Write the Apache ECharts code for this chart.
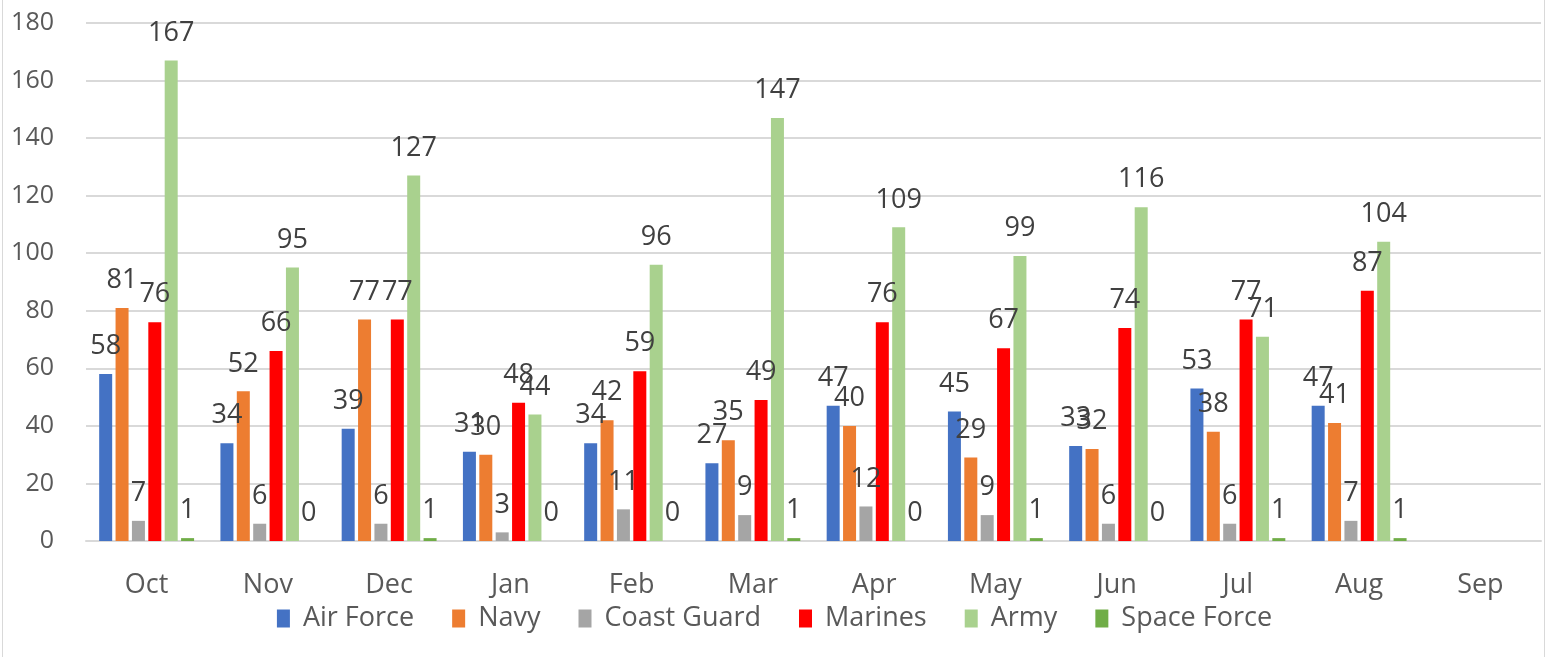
<!DOCTYPE html>
<html>
<head>
<meta charset="utf-8">
<script src="https://cdn.jsdelivr.net/npm/echarts@6/dist/echarts.min.js"></script>
<style>
    html, body { margin: 0; padding: 0; background: #fff; }
    #frame {
        position: absolute; left: 2px; top: -2px; width: 1543px; height: 662px;
        border: 1px solid #d9d9d9; box-sizing: border-box;
    }
    #chart { position: absolute; left: 0; top: 0; width: 1549px; height: 657px; }
</style>
</head>
<body>
<div id="frame"></div>
<div id="chart"></div>
<script>
// 月份
var months = ['Oct', 'Nov', 'Dec', 'Jan', 'Feb', 'Mar', 'Apr', 'May', 'Jun', 'Jul', 'Aug', 'Sep'];
// 各军种数据 (Sep 无数据)
var airForce   = [58, 34, 39, 31, 34, 27, 47, 45, 33, 53, 47, null];
var navy       = [81, 52, 77, 30, 42, 35, 40, 29, 32, 38, 41, null];
var coastGuard = [7, 6, 6, 3, 11, 9, 12, 9, 6, 6, 7, null];
var marines    = [76, 66, 77, 48, 59, 49, 76, 67, 74, 77, 87, null];
var army       = [167, 95, 127, 44, 96, 147, 109, 99, 116, 71, 104, null];
var spaceForce = [1, 0, 1, 0, 0, 1, 0, 1, 0, 1, 1, null];

var seriesNames = ['Air Force', 'Navy', 'Coast Guard', 'Marines', 'Army', 'Space Force'];
var seriesData = [airForce, navy, coastGuard, marines, army, spaceForce];
var colors = ['#4472C4', '#ED7D31', '#A5A5A5', '#FF0000', '#A9D18E', '#70AD47'];

var font = 'Open Sans';

var chart = echarts.init(document.getElementById('chart'));

var series = [];
for (let i = 0; i < seriesNames.length; i++) {
    series.push({
        name: seriesNames[i],
        type: 'bar',
        data: seriesData[i],
        barWidth: 13,
        barGap: '26%',
        itemStyle: { color: colors[i] },
        label: {
            show: true,
            position: 'top',
            distance: 14,
            color: '#404040',
            fontFamily: font,
            fontSize: 27
        }
    });
}

var option = {
    animation: false,
    color: colors,
    grid: {
        left: 86,
        right: 8,
        top: 23,
        bottom: 116
    },
    legend: {
        data: seriesNames,
        bottom: 20,
        left: 'center',
        itemWidth: 13,
        itemHeight: 18,
        itemGap: 38,
        icon: 'rect',
        textStyle: { color: '#595959', fontFamily: font, fontSize: 27, padding: [0, 0, 0, 8] }
    },
    xAxis: {
        type: 'category',
        data: months,
        axisLine: { show: true, lineStyle: { color: '#d9d9d9', width: 2 } },
        axisTick: { show: false },
        axisLabel: { color: '#595959', fontFamily: font, fontSize: 27, margin: 31 }
    },
    yAxis: {
        type: 'value',
        min: 0,
        max: 180,
        interval: 20,
        axisLine: { show: false },
        axisTick: { show: false },
        splitLine: { lineStyle: { color: '#d9d9d9', width: 2 } },
        axisLabel: { color: '#595959', fontFamily: font, fontSize: 25, margin: 32 }
    },
    series: series
};

chart.setOption(option);
</script>
</body>
</html>
